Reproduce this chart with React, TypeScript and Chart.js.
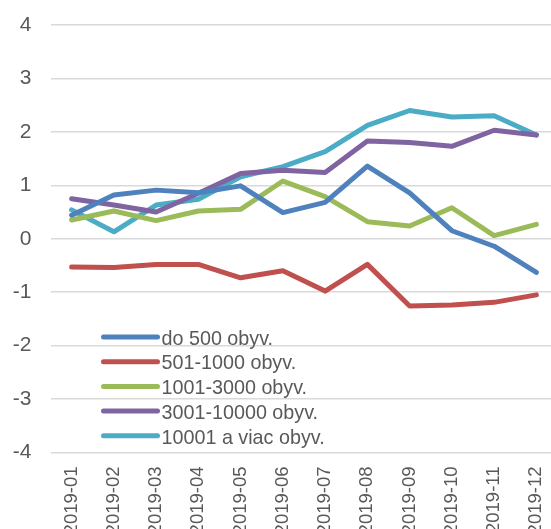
import React, { useEffect, useRef } from "react";
import { Chart, registerables } from "chart.js";

Chart.register(...registerables);

const categories = [
  "2019-01", "2019-02", "2019-03", "2019-04", "2019-05", "2019-06",
  "2019-07", "2019-08", "2019-09", "2019-10", "2019-11", "2019-12",
];

const seriesNames = [
  "do 500 obyv.",
  "501-1000 obyv.",
  "1001-3000 obyv.",
  "3001-10000 obyv.",
  "10001 a viac obyv.",
];

const do500 = [0.44, 0.82, 0.91, 0.86, 0.99, 0.49, 0.68, 1.36, 0.86, 0.15, -0.14, -0.63];
const s501_1000 = [-0.53, -0.54, -0.48, -0.48, -0.73, -0.6, -0.98, -0.48, -1.26, -1.24, -1.19, -1.05];
const s1001_3000 = [0.35, 0.52, 0.34, 0.52, 0.55, 1.08, 0.79, 0.32, 0.24, 0.58, 0.06, 0.27];
const s3001_10000 = [0.75, 0.63, 0.5, 0.85, 1.22, 1.28, 1.24, 1.83, 1.8, 1.73, 2.03, 1.94];
const s10001 = [0.54, 0.13, 0.63, 0.74, 1.16, 1.35, 1.63, 2.12, 2.4, 2.28, 2.3, 1.94];

const yTicks = [-4, -3, -2, -1, 0, 1, 2, 3, 4];

const colors = ["#4F81BD", "#C0504D", "#9BBB59", "#8064A2", "#4BACC6"];
const seriesValues = [do500, s501_1000, s1001_3000, s3001_10000, s10001];

const FONT = "'Liberation Sans', Arial, sans-serif";
const FSIZE = 21;
const TEXT = "#595959";

const innerLegend = {
  id: "innerLegend",
  afterDraw(chart: any) {
    const { ctx, chartArea } = chart;
    const x0 = chartArea.left + 53;
    const x1 = x0 + 54;
    const y0 = chartArea.top + 312;
    const step = 24.7;
    ctx.save();
    ctx.font = `${FSIZE}px ${FONT}`;
    ctx.textBaseline = "middle";
    ctx.textAlign = "left";
    chart.data.datasets.forEach((ds: any, i: number) => {
      const y = y0 + i * step;
      ctx.strokeStyle = ds.borderColor;
      ctx.lineWidth = 5;
      ctx.lineCap = "round";
      ctx.beginPath();
      ctx.moveTo(x0, y);
      ctx.lineTo(x1, y);
      ctx.stroke();
      ctx.save();
      ctx.translate(x1 + 4, y + 2);
      ctx.scale(0.94, 1);
      ctx.fillStyle = TEXT;
      ctx.fillText(ds.label, 0, 0);
      ctx.restore();
    });
    ctx.restore();
  },
};

export default function App() {
  const ref = useRef<HTMLCanvasElement>(null);
  useEffect(() => {
    if (!ref.current) return;
    const chart = new Chart(ref.current, {
      type: "line",
      data: {
        labels: categories,
        datasets: seriesNames.map((name, i) => ({
          label: name,
          data: seriesValues[i],
          borderColor: colors[i],
          backgroundColor: colors[i],
          borderWidth: 5,
          pointRadius: 0,
          borderCapStyle: "round",
          borderJoinStyle: "round",
          tension: 0,
          fill: false,
        })),
      },
      options: {
        responsive: false,
        animation: false,
        layout: { padding: { top: 25, right: 22.5, left: 0, bottom: 0 } },
        plugins: {
          legend: { display: false },
          tooltip: { enabled: false },
        },
        scales: {
          x: {
            offset: true,
            grid: { display: false, drawTicks: false },
            border: { display: false },
            ticks: {
              color: TEXT,
              font: { family: FONT, size: 18.5 },
              minRotation: 90,
              maxRotation: 90,
              padding: 14,
              autoSkip: false,
            },
            afterFit(scale: any) {
              scale.height = 76.5;
              scale.paddingLeft = 0;
              scale.paddingRight = 0;
              scale.paddingTop = 0;
              scale.paddingBottom = 0;
            },
          },
          y: {
            min: yTicks[0],
            max: yTicks[yTicks.length - 1],
            grid: { color: "#D9D9D9", lineWidth: 1.6, drawTicks: false },
            border: { display: false },
            ticks: {
              stepSize: 1,
              color: TEXT,
              font: { family: FONT, size: FSIZE },
              padding: 19,
            },
            afterFit(scale: any) {
              scale.width = 50.5;
              scale.paddingTop = 0;
              scale.paddingBottom = 0;
            },
          },
        },
      },
      plugins: [innerLegend],
    });
    return () => chart.destroy();
  }, []);
  return (
    <div style={{ position: "fixed", left: 0, top: 0, width: 551, height: 529, overflow: "hidden", background: "#fff" }}>
      <canvas ref={ref} width={580} height={529} style={{ display: "block" }} />
    </div>
  );
}
